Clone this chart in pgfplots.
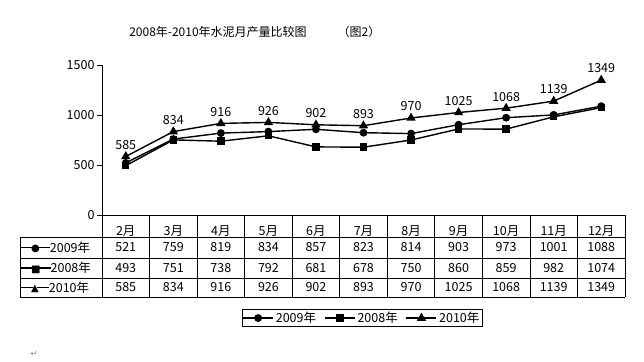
\documentclass[border=0pt]{standalone}
\usepackage{pgfplots}
\pgfplotsset{compat=1.18}
\usepackage{pgfplotstable}
\usepackage{fontspec}
\setmainfont{Noto Sans CJK SC}
\newfontfamily\symfont{DejaVu Sans}

\pgfplotstableread{
x y2009 y2008 y2010
0 521 493 585
1 759 751 834
2 819 738 916
3 834 792 926
4 857 681 902
5 823 678 893
6 814 750 970
7 903 860 1025
8 973 859 1068
9 1001 982 1139
10 1088 1074 1349
}\datatable

\newcommand\tf{\fontsize{12.5}{14}\selectfont}
\newcommand\lm[1]{\raisebox{3.8pt}{\rule{12pt}{1.5pt}}\hspace{-2pt}\raisebox{0.3pt}{\symfont\fontsize{10}{10}\selectfont #1}\hspace{-2pt}\raisebox{3.8pt}{\rule{12pt}{1.5pt}}}

\begin{document}
\begin{tikzpicture}[x=1pt,y=1pt]
\useasboundingbox (0,0) rectangle (644,361);
\begin{axis}[
  at={(102pt,146pt)}, anchor=south west,
  scale only axis, width=523pt, height=150pt,
  xmin=-0.5, xmax=10.5, ymin=0, ymax=1500,
  axis x line=bottom, axis y line=left,
  axis line style={-, line width=0.8pt},
  ytick={0,500,1000,1500},
  xtick={0,...,10},
  xticklabels={2月,3月,4月,5月,6月,7月,8月,9月,10月,11月,12月},
  x tick style={draw=none},
  y tick style={line width=0.8pt, black},
  tick align=outside, major tick length=5pt,
  /pgf/number format/assume math mode=true,
  /pgf/number format/set thousands separator={},
  y tick label style={font=\tf, xshift=1pt},
  x tick label style={font=\tf, anchor=center, yshift=-11pt},
  clip=false,
  every axis plot/.append style={black, line width=1.4pt},
  legend columns=3,
  legend style={at={(0.497,-0.687)}, anchor=center, draw=black, line width=0.8pt,
    font=\tf, inner sep=0.5pt,
    /tikz/every even column/.append style={column sep=6pt}},
  legend image code/.code={\draw[mark repeat=2,mark phase=2] plot coordinates {(0pt,0pt) (15pt,0pt) (30pt,0pt)};},
]
\addplot[mark=*, mark size=3.2pt] table[x=x,y=y2009] {\datatable};
\addlegendentry{2009年}
\addplot[mark=square*, mark size=3pt] table[x=x,y=y2008] {\datatable};
\addlegendentry{2008年}
\addplot[mark=triangle*, mark size=4pt,
  nodes near coords, every node near coord/.append style={font=\tf, anchor=south, yshift=3pt}]
  table[x=x,y=y2010] {\datatable};
\addlegendentry{2010年}
\end{axis}

% table grid
\begin{scope}[line width=0.8pt]
\draw (102,146) -- (102,64);
\foreach \k in {1,...,11} \draw (102+47.545*\k,146) -- (102+47.545*\k,64);
\foreach \py in {237,258,278,297} \draw (20,361-\py) -- (625,361-\py);
\draw (20,124) -- (20,64);
\end{scope}

% table values
\foreach \v [count=\i from 0] in {521,759,819,834,857,823,814,903,973,1001,1088}
  \node[font=\tf] at (125.77+47.545*\i,361-247.5) {\v};
\foreach \v [count=\i from 0] in {493,751,738,792,681,678,750,860,859,982,1074}
  \node[font=\tf] at (125.77+47.545*\i,361-268) {\v};
\foreach \v [count=\i from 0] in {585,834,916,926,902,893,970,1025,1068,1139,1349}
  \node[font=\tf] at (125.77+47.545*\i,361-287.5) {\v};

\node[font=\tf, anchor=west, inner sep=0pt] at (21,361-247.5) {\lm{●}2009年};
\node[font=\tf, anchor=west, inner sep=0pt] at (21,361-268) {\lm{■}2008年};
\node[font=\tf, anchor=west, inner sep=0pt] at (21,361-287.5) {\lm{▲}2010年};

% title
\node[font=\fontsize{12}{14}\selectfont] at (218,361-32) {2008年-2010年水泥月产量比较图};
\node[font=\fontsize{12}{14}\selectfont] at (359,361-32) {（图2）};

\node[font=\fontsize{8}{8}\symfont, gray] at (34,361-354) {↵};
\end{tikzpicture}
\end{document}
